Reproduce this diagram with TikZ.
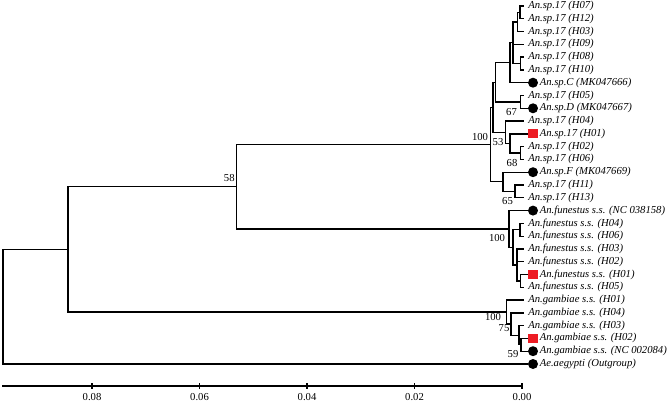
\documentclass[tikz,border=0pt]{standalone}
\usepackage{fontspec}
\setmainfont{Liberation Serif}
\definecolor{sqred}{RGB}{237,28,36}
\begin{document}
\begin{tikzpicture}[x=0.75pt,y=-0.75pt,
  br/.style={line width=1pt, black},
  lf/.style={anchor=west, inner sep=0pt, font=\fontsize{8}{9}\selectfont\itshape},
  bs/.style={inner sep=0pt, font=\fontsize{8}{9}\selectfont},
  tl/.style={anchor=north, inner sep=0pt, font=\fontsize{8}{9}\selectfont},
  dot/.style={circle, fill=black, minimum size=7.5pt, inner sep=0pt},
  sq/.style={rectangle, fill=sqred, minimum size=6.8pt, inner sep=0pt},
  ax/.style={line width=1pt, black}]
\useasboundingbox (0,0) rectangle (670,402);
% ---------- leaves ----------
\coordinate (t1) at (524,6.0);   \node[lf] (l1) at (528,6.0) {An.sp.17 (H07)};
\coordinate (t2) at (524,18.8);  \node[lf] (l2) at (528,18.8) {An.sp.17 (H12)};
\coordinate (t3) at (524,31.6);  \node[lf] (l3) at (528,31.6) {An.sp.17 (H03)};
\coordinate (t4) at (524,44.4);  \node[lf] (l4) at (528,44.4) {An.sp.17 (H09)};
\coordinate (t5) at (524,57.1);  \node[lf] (l5) at (528,57.1) {An.sp.17 (H08)};
\coordinate (t6) at (524,69.9);  \node[lf] (l6) at (528,69.9) {An.sp.17 (H10)};
\node[dot] (m7) at (533,82.7) {};  \node[lf] (l7) at (539.5,82.7) {An.sp.C (MK047666)};
\coordinate (t8) at (524,95.5);  \node[lf] (l8) at (528,95.5) {An.sp.17 (H05)};
\node[dot] (m9) at (533,108.3) {}; \node[lf] (l9) at (539.5,108.3) {An.sp.D (MK047667)};
\coordinate (t10) at (524,121.1); \node[lf] (l10) at (528,121.1) {An.sp.17 (H04)};
\node[sq] (m11) at (533,133.9) {}; \node[lf] (l11) at (539.5,133.9) {An.sp.17 (H01)};
\coordinate (t12) at (524,146.6); \node[lf] (l12) at (528,146.6) {An.sp.17 (H02)};
\coordinate (t13) at (524,159.4); \node[lf] (l13) at (528,159.4) {An.sp.17 (H06)};
\node[dot] (m14) at (533,172.2) {}; \node[lf] (l14) at (539.5,172.2) {An.sp.F (MK047669)};
\coordinate (t15) at (524,185.0); \node[lf] (l15) at (528,185.0) {An.sp.17 (H11)};
\coordinate (t16) at (524,197.8); \node[lf] (l16) at (528,197.8) {An.sp.17 (H13)};
\node[dot] (m17) at (533,210.6) {}; \node[lf] (l17) at (539.5,210.6) {An.funestus s.s. (NC 038158)};
\coordinate (t18) at (524,223.4); \node[lf] (l18) at (528,223.4) {An.funestus s.s. (H04)};
\coordinate (t19) at (524,236.2); \node[lf] (l19) at (528,236.2) {An.funestus s.s. (H06)};
\coordinate (t20) at (524,248.9); \node[lf] (l20) at (528,248.9) {An.funestus s.s. (H03)};
\coordinate (t21) at (524,261.7); \node[lf] (l21) at (528,261.7) {An.funestus s.s. (H02)};
\node[sq] (m22) at (533,274.5) {}; \node[lf] (l22) at (539.5,274.5) {An.funestus s.s. (H01)};
\coordinate (t23) at (524,287.3); \node[lf] (l23) at (528,287.3) {An.funestus s.s. (H05)};
\coordinate (t24) at (524,300.1); \node[lf] (l24) at (528,300.1) {An.gambiae s.s. (H01)};
\coordinate (t25) at (524,312.9); \node[lf] (l25) at (528,312.9) {An.gambiae s.s. (H04)};
\coordinate (t26) at (524,325.7); \node[lf] (l26) at (528,325.7) {An.gambiae s.s. (H03)};
\node[sq] (m27) at (533,338.4) {}; \node[lf] (l27) at (539.5,338.4) {An.gambiae s.s. (H02)};
\node[dot] (m28) at (533,351.2) {}; \node[lf] (l28) at (539.5,351.2) {An.gambiae s.s. (NC 002084)};
\node[dot] (m29) at (533,364.0) {}; \node[lf] (l29) at (539.5,364.0) {Ae.aegypti (Outgroup)};
% ---------- internal nodes ----------
\coordinate (a) at (520,12.4);
\coordinate (b) at (517.5,22.0);
\coordinate (c) at (520.5,63.5);
\coordinate (d) at (513,42.75);
\coordinate (e) at (510,62.7);
\coordinate (f) at (520.5,101.9);
\coordinate (j) at (495.5,82.3);
\coordinate (g) at (520.5,153.0);
\coordinate (h1) at (510,143.5);
\coordinate (h) at (505.5,132.3);
\coordinate (i) at (493,107.3);
\coordinate (k) at (515,191.4);
\coordinate (Fg) at (503,181.8);
\coordinate (n100) at (490.5,144.55);
\coordinate (fa) at (520,229.8);
\coordinate (fb) at (520.5,280.9);
\coordinate (fc) at (517,264.9);
\coordinate (fr) at (513,247.35);
\coordinate (fu) at (509,229.0);
\coordinate (n58) at (236.5,186.8);
\coordinate (G2) at (521,344.8);
\coordinate (G1b) at (519,335.25);
\coordinate (G1) at (511,324.1);
\coordinate (G) at (506.5,312.1);
\coordinate (X) at (68,249.45);
\coordinate (root) at (3,306.7);
% ---------- branches ----------
\draw[br] (a) |- (t1);  \draw[br] (a) |- (t2);
\draw[br] (b) |- (a);   \draw[br] (b) |- (t3);
\draw[br] (c) |- (t5);  \draw[br] (c) |- (t6);
\draw[br] (d) |- (b);   \draw[br] (d) |- (t4);  \draw[br] (d) |- (c);
\draw[br] (e) |- (d);   \draw[br] (e) |- (m7.west);
\draw[br] (f) |- (t8);  \draw[br] (f) |- (m9.west);
\draw[br] (j) |- (e);   \draw[br] (j) |- (f);
\draw[br] (g) |- (t12); \draw[br] (g) |- (t13);
\draw[br] (h1) |- (m11.west); \draw[br] (h1) |- (g);
\draw[br] (h) |- (t10); \draw[br] (h) |- (h1);
\draw[br] (i) |- (j);   \draw[br] (i) |- (h);
\draw[br] (k) |- (t15); \draw[br] (k) |- (t16);
\draw[br] (Fg) |- (m14.west); \draw[br] (Fg) |- (k);
\draw[br] (n100) |- (i); \draw[br] (n100) |- (Fg);
\draw[br] (fa) |- (t18); \draw[br] (fa) |- (t19);
\draw[br] (fb) |- (m22.west); \draw[br] (fb) |- (t23);
\draw[br] (fc) |- (t20); \draw[br] (fc) |- (t21); \draw[br] (fc) |- (fb);
\draw[br] (fr) |- (fa); \draw[br] (fr) |- (fc);
\draw[br] (fu) |- (m17.west); \draw[br] (fu) |- (fr);
\draw[br] (n58) |- (n100); \draw[br] (n58) |- (fu);
\draw[br] (G2) |- (m27.west); \draw[br] (G2) |- (m28.west);
\draw[br] (G1b) |- (t26); \draw[br] (G1b) |- (G2);
\draw[br] (G1) |- (t25); \draw[br] (G1) |- (G1b);
\draw[br] (G) |- (t24); \draw[br] (G) |- (G1);
\draw[br] (X) |- (n58); \draw[br] (X) |- (G);
\draw[br] (root) |- (X); \draw[br] (root) |- (m29.west);
% ---------- bootstrap values ----------
\node[bs] (b100a) at (480,137) {100};
\node[bs] (b53) at (498,141.7) {53};
\node[bs] (b67) at (511.5,111.7) {67};
\node[bs] (b68) at (512,163) {68};
\node[bs] (b65) at (507.5,201) {65};
\node[bs] (b58) at (229.3,178.3) {58};
\node[bs] (b100b) at (497,238) {100};
\node[bs] (b100c) at (493,317) {100};
\node[bs] (b75) at (504,328) {75};
\node[bs] (b59) at (513,354) {59};
% ---------- scale axis ----------
\coordinate (ax0) at (2,386);
\coordinate (ax1) at (522,386);
\draw[ax] (ax0) -- (ax1);
\foreach \xx/\lab in {92/0.08,199.5/0.06,307/0.04,414.5/0.02,522/0.00}{
  \draw[ax] (\xx,383) -- (\xx,389);
  \node[tl] at (\xx,393.5) {\lab};
}
\end{tikzpicture}
\end{document}
